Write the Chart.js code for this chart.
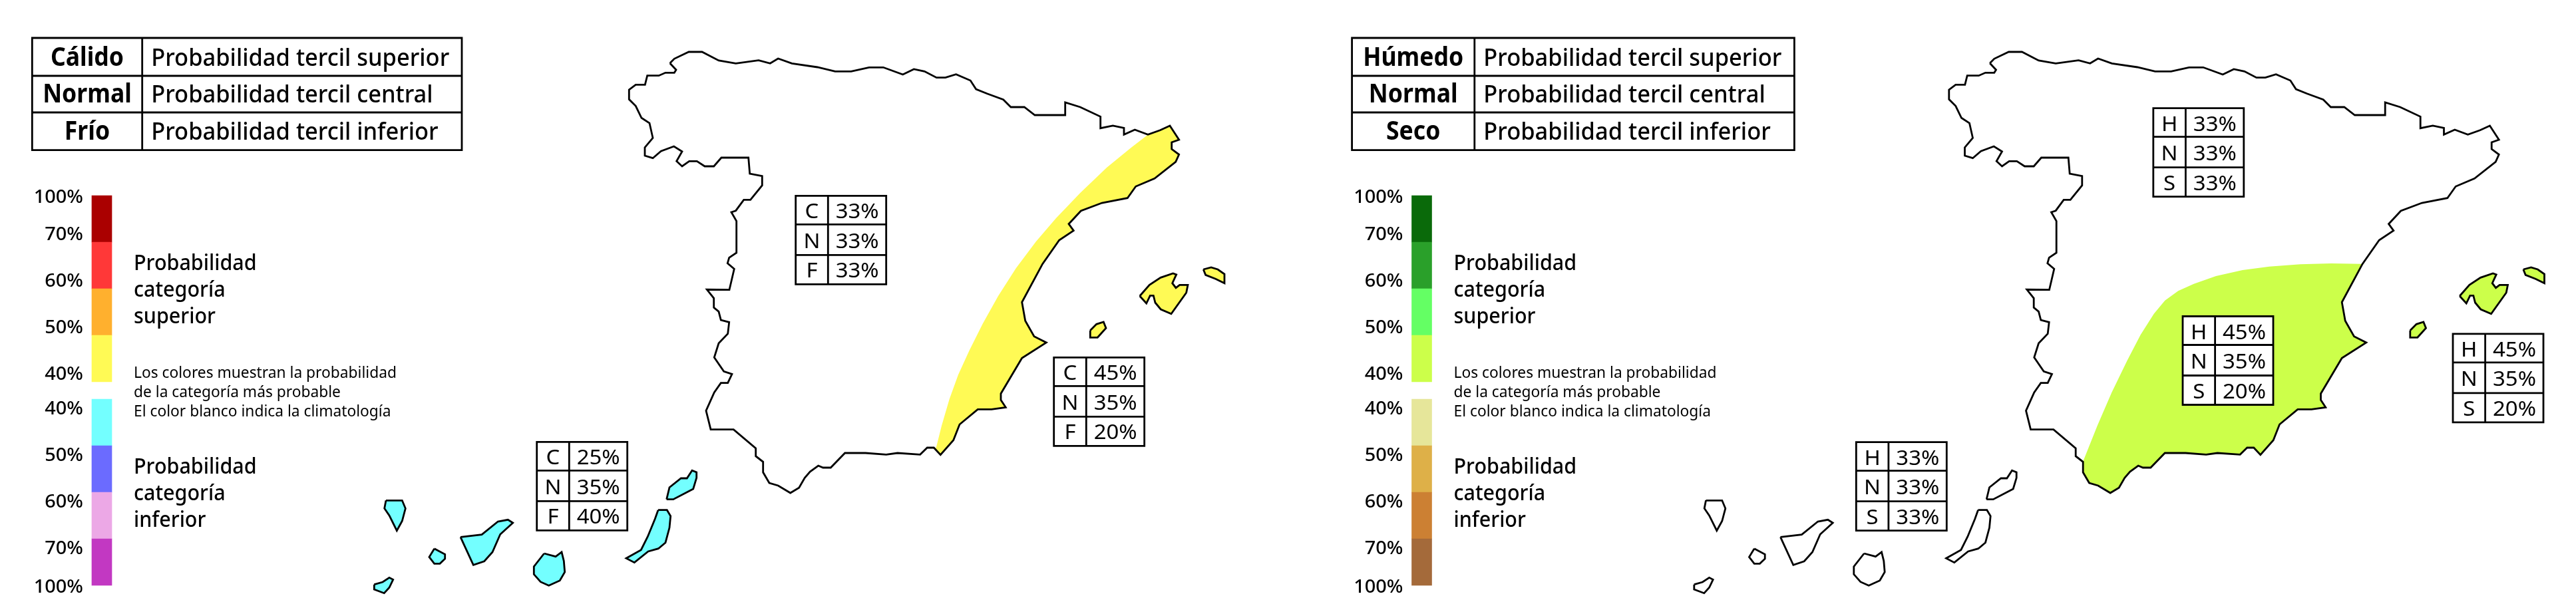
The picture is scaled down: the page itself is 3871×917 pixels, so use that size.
<!DOCTYPE html>
<html lang="es">
<head>
<meta charset="utf-8">
<title>Probabilidad tercil</title>
<script src="https://cdn.jsdelivr.net/npm/chart.js@4/dist/chart.umd.min.js"></script>
<style>
html,body{margin:0;padding:0;background:#fff;overflow:hidden}
canvas{display:block}
</style>
</head>
<body>
<canvas id="c" width="3871" height="917"></canvas>
<script>
// ---------- map outlines (map units) ----------
const peninsula = [[1006.7,95],[1013.3,88.3],[1035,78],[1055,78],[1080,91],[1105.7,95.3],[1140,90.7],[1157.3,95.3],[1169.3,88],[1190,95.3],[1228.3,101],[1255,107.3],[1279,107.3],[1306,101.3],[1327.3,101.3],[1356.7,112],[1373.3,104],[1389.3,107.3],[1407.3,116.7],[1420.7,116.7],[1436.7,111.7],[1458.3,121],[1466.7,134],[1483.3,140.7],[1507.7,149.7],[1519,161],[1539.3,161],[1555,173],[1600.7,173],[1600.7,154],[1623.3,161],[1653.7,175.3],[1653.7,192.7],[1672.3,189],[1689,192.3],[1689,202.3],[1705.3,195],[1725,202.3],[1743.3,195.7],[1758,189],[1771.7,210],[1760.7,214],[1760.7,224],[1771.7,232.3],[1766.7,243.3],[1735,268.3],[1706.7,280.3],[1694.3,297.7],[1656,305],[1624.3,317],[1606,336.7],[1613.3,346.7],[1591.7,361],[1566.7,396.7],[1535.7,454.3],[1540.7,482.3],[1554,505.7],[1572.3,515],[1535.7,538.3],[1504,591.7],[1504,601.3],[1511.3,612.3],[1490,615.3],[1469.3,615.3],[1442,638],[1432.7,661.7],[1413.3,683.7],[1403.3,673],[1393.3,673],[1382.7,683.3],[1348.7,681],[1331.7,683.3],[1300.7,681],[1269.7,681],[1248.3,703],[1236.7,703],[1229.7,700],[1217.3,709],[1209.3,718.3],[1200.7,733.3],[1187.7,741],[1169.3,730],[1156,726],[1146.7,710],[1146.7,694.3],[1135.7,685.7],[1135.7,674],[1102.3,645.7],[1068,645.7],[1065,633.3],[1061,617.3],[1073.3,590],[1083.3,575.7],[1093.7,575.7],[1100,562.3],[1087.7,558.3],[1073.3,537.3],[1080,516],[1093.7,501.7],[1095.7,484.3],[1083.3,481],[1080,468.3],[1072.7,462.3],[1072.7,448.3],[1062.3,435.3],[1096,435.7],[1103.3,404.3],[1093.3,395.7],[1095.7,387.3],[1106.7,380],[1106.7,332.3],[1099,319],[1105.7,316.7],[1117.7,300.3],[1127.7,300.3],[1145.3,278.7],[1145.3,264.7],[1126.7,261],[1124.7,237],[1084,237],[1072.7,250],[1059,250],[1047.3,242.3],[1035.7,242.3],[1025,250],[1016.7,242.3],[1025,227.7],[1012.7,220],[993.3,227.3],[981,237.7],[969,234],[969,221.7],[981,207.3],[976,185],[964,177.3],[955.3,159.3],[945.3,149.3],[945.3,135],[955.3,127.3],[969.3,127.3],[972.7,113.7],[990,113.7],[1000,109.3],[1013.3,109.3],[1016,105],[1006.7,95]];
const mallorca = [[1712.7,445],[1727.3,428.3],[1744,417.3],[1762.7,411],[1767.7,412.7],[1761.7,425.7],[1767,432.7],[1772.7,428.3],[1785,428.3],[1782.7,440],[1760,471.7],[1744.3,465],[1736,455],[1733.3,444.3],[1728.3,444.3],[1722.7,456],[1712.7,445]];
const menorca = [[1808.3,405],[1820,402],[1830,405],[1840,412],[1840,425.7],[1826.7,419.3],[1811.7,413.3],[1808.3,405]];
const ibiza = [[1638.3,496.7],[1647.7,487.3],[1658.3,484],[1662,493.3],[1649.3,507.3],[1638.3,507.3],[1638.3,496.7]];
const laPalma = [[580,752.3],[604.3,752.3],[609.3,764.3],[604.3,783.3],[596.3,797.7],[585,775],[577.7,764.3],[580,752.3]];
const hierro = [[562.3,878.7],[575,875],[585,868.3],[590.7,871.3],[585,883.3],[577.3,891.7],[562.3,886],[562.3,878.7]];
const gomera = [[652.7,824.7],[668.7,833.3],[668.7,840],[661,847.3],[652.7,847.3],[645,837.3],[652.7,824.7]];
const tenerife = [[692,807.3],[724,803.7],[748.3,784],[763.3,781.3],[770.7,786],[751.7,803.3],[740,830],[727.7,843.7],[711.3,849.3],[692,807.3]];
const granCanaria = [[817.7,832],[835,836.7],[844,830],[847.3,843.3],[848.7,860],[841.3,872.7],[824.7,880.3],[812.3,874.7],[802.3,863.3],[802.3,851.7],[817.7,832]];
const fuerteventura = [[989,766.7],[1002.3,766.7],[1007.7,775.7],[1006,793.3],[1000,815.7],[989.3,824.7],[974,829],[953.3,845.7],[941,839.3],[963.3,826.7],[973.3,806.7],[984.3,780],[989,766.7]];
const lanzarote = [[1001.7,750.7],[1006,732.7],[1023.3,719],[1032.3,719],[1040,707.3],[1046.7,710],[1046.7,718.3],[1041.7,735],[1011.7,750.7],[1001.7,750.7]];
// inland edges of the probability regions, running from the south up to the coast
const warmEdge = [[1406.7,673.3],[1415,640],[1426.7,600],[1440,563.3],[1456.7,526.7],[1476.7,486.7],[1500,445],[1526.7,403.3],[1556.7,363.3],[1586.7,328.3],[1623.3,290],[1663.3,251.7],[1700,221.7],[1725,202.5]];
const wetEdge = [[1148.2,690],[1168.2,640],[1189.8,590],[1213.2,541.7],[1233.2,503.3],[1253.2,471.7],[1269.8,451.7],[1289.8,437.3],[1313.2,426.7],[1346.5,415],[1386.5,406],[1426.5,400.7],[1473.2,397.3],[1519.8,396],[1564.8,396.7]];

// ---------- colour scale ----------
const scaleEdgesUpper = [294,364,434,504,574];
const scaleEdgesLower = [600,670,740,810,880];
const tempColours = ['#AA0000','#FF3838','#FFB02E','#FFFA55','#73FFFF','#6B6BFF','#ECA8E6','#C238C2'];
const rainColours = ['#0A6A0A','#2AA02A','#64FF64','#CCFF4A','#E6E69A','#DEB048','#CC8033','#A46A3A'];
const scaleLabels = ['100%','70%','60%','50%','40%','40%','50%','60%','70%','100%'];

// ---------- texts ----------
const tempHeads = ['Cálido','Normal','Frío'];
const rainHeads = ['Húmedo','Normal','Seco'];
const terciles = ['Probabilidad tercil superior','Probabilidad tercil central','Probabilidad tercil inferior'];
const upperTitle = ['Probabilidad','categoría','superior'];
const lowerTitle = ['Probabilidad','categoría','inferior'];
const note = ['Los colores muestran la probabilidad','de la categoría más probable','El color blanco indica la climatología'];
const tempLetters = ['C','N','F'];
const rainLetters = ['H','N','S'];
const tempPeninsula = [33,33,33];
const tempEast = [45,35,20];
const tempCanary = [25,35,40];
const rainNorth = [33,33,33];
const rainSouth = [45,35,20];
const rainBalearic = [45,35,20];
const rainCanary = [33,33,33];

// ---------- layout / style ----------
const WIDTH = 3871, HEIGHT = 917, RIGHT_PANEL = 1983.5;
const FONT = '"Noto Sans", sans-serif';
const LINE = 2.8;

function pts(a){ return a.map(p => ({x:p[0], y:p[1]})); }
function idx(x,y){ return peninsula.findIndex(p => p[0]===x && p[1]===y); }
function shape(points, axis, fillColour){
  return {type:'scatter', xAxisID:axis, yAxisID:'y', data:pts(points), showLine:true, pointRadius:0,
    borderWidth:LINE, borderColor:'#000', borderJoinStyle:'miter', tension:0,
    backgroundColor:fillColour || 'rgba(0,0,0,0)', fill: fillColour ? 'shape' : false};
}
function region(points, axis, colour){
  const d = shape(points, axis, colour);
  d.borderWidth = 0; d.borderColor = 'rgba(0,0,0,0)';
  return d;
}
function scaleBar(axis, colours){
  const edges = [scaleEdgesUpper, scaleEdgesLower];
  const data = [];
  edges.forEach(e => { for(let i=0;i<e.length-1;i++) data.push({x:153, y:[e[i],e[i+1]]}); });
  return {type:'bar', xAxisID:axis, yAxisID:'y', data, backgroundColor:colours, borderWidth:0, barThickness:30, grouped:false};
}
const warmFill = peninsula.slice(idx(1725,202.3), idx(1403.3,673)+1).concat(warmEdge);
const wetFill = peninsula.slice(idx(1566.7,396.7), idx(1146.7,694.3)+1).concat(wetEdge);
const baleares = [mallorca, menorca, ibiza];
const canarias = [laPalma, hierro, gomera, tenerife, granCanaria, fuerteventura, lanzarote];

const datasets = [
  shape(peninsula,'x'), shape(peninsula,'x2'),
  ...baleares.map(p => shape(p,'x','#FFFA55')), ...canarias.map(p => shape(p,'x','#73FFFF')),
  ...baleares.map(p => shape(p,'x2','#CCFF4A')), ...canarias.map(p => shape(p,'x2')),
  region(warmFill,'x','#FFFA55'), region(wetFill,'x2','#CCFF4A'),
  scaleBar('x',tempColours), scaleBar('x2',rainColours)
];

function fitScale(ctx, font, text, width){ ctx.font = font; return width / ctx.measureText(text).width; }
function put(ctx, s, x, y, font, align, sx){
  ctx.save();
  ctx.font = font; ctx.fillStyle = '#000'; ctx.textAlign = align; ctx.textBaseline = 'alphabetic';
  ctx.translate(x, y); ctx.scale(sx, 1); ctx.fillText(s, 0, 0);
  ctx.restore();
}
function grid(ctx, xs, ys, white){
  const x0 = xs[0], x1 = xs[xs.length-1], y0 = ys[0], y1 = ys[ys.length-1];
  ctx.save();
  if (white){ ctx.fillStyle = '#fff'; ctx.fillRect(x0,y0,x1-x0,y1-y0); }
  ctx.strokeStyle = '#000'; ctx.lineWidth = LINE;
  ctx.beginPath();
  xs.forEach(x => { ctx.moveTo(x,y0); ctx.lineTo(x,y1); });
  ys.forEach(y => { ctx.moveTo(x0-LINE/2,y); ctx.lineTo(x1+LINE/2,y); });
  ctx.stroke();
  ctx.restore();
}

const textPlugin = {
  id:'texts',
  afterDatasetsDraw(chart){
    const ctx = chart.ctx, X = chart.scales.x, Y = chart.scales.y;
    const px = v => X.getPixelForValue(v), py = v => Y.getPixelForValue(v);

    // header tables
    const headFont = '700 39px '+FONT, descFont = '500 37px '+FONT;
    const headSx = fitScale(ctx, headFont, 'Normal', 133.7);
    const descSx = fitScale(ctx, descFont, terciles[0], 448);
    const headBase = [99.3,154.3,210.3];
    const headGrids = [
      {xs:[48.3,213.7,694], heads:tempHeads},
      {xs:[2031.6,2215.8,2696.4], heads:rainHeads}
    ];
    headGrids.forEach(t => {
      grid(ctx, t.xs.map(px), [57,114,169,225.7].map(py));
      t.heads.forEach((h,i) => put(ctx, h, px((t.xs[0]+t.xs[1])/2), py(headBase[i]), headFont, 'center', headSx));
      terciles.forEach((h,i) => put(ctx, h, px(t.xs[1]+13.5), py(headBase[i]), descFont, 'left', descSx));
    });

    // colour scale texts
    const tickFont = '500 27px '+FONT, titleFont = '500 33px '+FONT, noteFont = '400 24px '+FONT;
    const tickSx = fitScale(ctx, tickFont, '100%', 74.3);
    const titleSx = fitScale(ctx, titleFont, 'Probabilidad', 184.7);
    const noteSx = fitScale(ctx, noteFont, note[0], 395);
    const tickBase = [305,360.6,430.7,500.7,570.7,623.2,692.7,762.7,832.7,890.7];
    [0, RIGHT_PANEL].forEach(off => {
      scaleLabels.forEach((s,i) => put(ctx, s, px(125+off), py(tickBase[i]), tickFont, 'right', tickSx));
      upperTitle.forEach((s,i) => put(ctx, s, px(201+off), py([406.4,446,486][i]), titleFont, 'left', titleSx));
      lowerTitle.forEach((s,i) => put(ctx, s, px(201+off), py([712.3,752,791.8][i]), titleFont, 'left', titleSx));
      note.forEach((s,i) => put(ctx, s, px(201+off), py([567.8,597,625.7][i]), noteFont, 'left', noteSx));
    });

    // probability tables
    const cellFont = '400 31px '+FONT;
    const cellSx = fitScale(ctx, cellFont, '33%', 65);
    const small = [
      {at:[1195.7,294.3], letters:tempLetters, vals:tempPeninsula},
      {at:[1583.7,537.3], letters:tempLetters, vals:tempEast},
      {at:[806.7,664.3], letters:tempLetters, vals:tempCanary},
      {at:[3235.8,162.6], letters:rainLetters, vals:rainNorth},
      {at:[3280,475.5], letters:rainLetters, vals:rainSouth},
      {at:[3686,501.8], letters:rainLetters, vals:rainBalearic},
      {at:[2789.3,664.6], letters:rainLetters, vals:rainCanary}
    ];
    small.forEach(t => {
      const [x,y] = t.at;
      grid(ctx, [x,x+48.6,x+136].map(px), [y,y+43,y+89,y+133].map(py), true);
      t.letters.forEach((l,i) => {
        const b = y + [34,78.4,123][i];
        put(ctx, l, px(x+24.3), py(b), cellFont, 'center', cellSx);
        put(ctx, t.vals[i]+'%', px(x+92.5), py(b), cellFont, 'center', cellSx);
      });
    });
  }
};

new Chart(document.getElementById('c'), {
  type:'scatter',
  data:{datasets},
  plugins:[textPlugin],
  options:{
    responsive:false, animation:false, devicePixelRatio:1,
    layout:{padding:0}, events:[],
    plugins:{legend:{display:false}, tooltip:{enabled:false}},
    scales:{
      x:{type:'linear', axis:'x', min:0, max:WIDTH, display:false, offset:false},
      x2:{type:'linear', axis:'x', min:-RIGHT_PANEL, max:WIDTH-RIGHT_PANEL, display:false, offset:false},
      y:{type:'linear', axis:'y', min:0, max:HEIGHT, reverse:true, display:false}
    }
  }
});
</script>
</body>
</html>
